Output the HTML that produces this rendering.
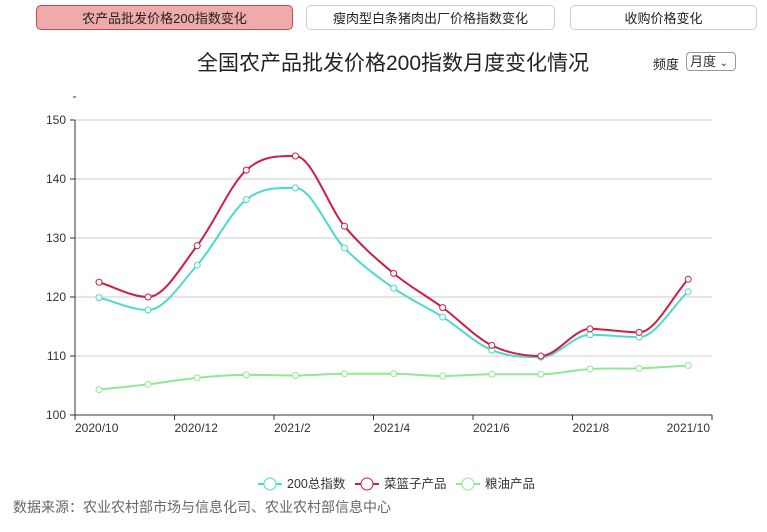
<!DOCTYPE html>
<html><head><meta charset="utf-8"><style>
body{margin:0;width:767px;height:532px;background:#fff;font-family:"Liberation Sans","Noto Sans CJK SC",sans-serif;position:relative;overflow:hidden}
.btn{position:absolute;top:5px;height:25px;border:1px solid #ccc;border-radius:5px;text-align:center;line-height:25px;font-size:13px;color:#222;background:#fff;box-sizing:border-box}
</style></head><body>
<div class="btn" style="left:36px;width:257px;background:#efaaaa;border-color:#c9474c">农产品批发价格200指数变化</div>
<div class="btn" style="left:306px;width:249px">瘦肉型白条猪肉出厂价格指数变化</div>
<div class="btn" style="left:570px;width:187px">收购价格变化</div>
<div style="position:absolute;left:193px;width:400px;top:47px;text-align:center;font-size:21px;color:#222;white-space:nowrap">全国农产品批发价格200指数月度变化情况</div>
<div style="position:absolute;left:653px;top:54px;font-size:13px;color:#222">频度</div>
<div style="position:absolute;left:686px;top:52px;width:50px;height:19px;border:1px solid #999;border-radius:4px;box-sizing:border-box;font-size:13px;line-height:17px;padding-left:3px;color:#333">月度 <span style="font-size:10px">&#8964;</span></div>
<svg id="c" width="767" height="532" style="position:absolute;left:0;top:0" font-family="Liberation Sans, Noto Sans CJK SC, sans-serif"></svg>
<div style="position:absolute;left:13px;top:497px;font-size:14px;color:#666">数据来源：农业农村部市场与信息化司、农业农村部信息中心</div>
<script>
var s='';
function Y(v){return 415-(v-100)*5.9;}
s+='<line x1="73" y1="97" x2="76" y2="97" stroke="#333"/>';
for(var v=100;v<=150;v+=10){var y=Y(v);
 if(v>100)s+='<line x1="75" y1="'+y+'" x2="712" y2="'+y+'" stroke="#ccc"/>';
 s+='<line x1="70" y1="'+y+'" x2="75" y2="'+y+'" stroke="#333"/><text x="66" y="'+(y+4)+'" text-anchor="end" font-size="12" fill="#333">'+v+'</text>';}
s+='<line x1="75" y1="120" x2="75" y2="415" stroke="#333"/><line x1="75" y1="415" x2="712" y2="415" stroke="#333"/>';
var lab=['2020/10','2020/12','2021/2','2021/4','2021/6','2021/8','2021/10'];
for(var i=0;i<7;i++){var x=i<6?75+i*99.5:712;s+='<line x1="'+x+'" y1="415" x2="'+x+'" y2="420" stroke="#333"/>';
 s+='<text x="'+(i<6?x:x-2)+'" y="432" text-anchor="'+(i<6?'start':'end')+'" font-size="12" fill="#333">'+lab[i]+'</text>';}
var D=[['#4dd9cc',[119.9,117.8,125.4,136.5,138.5,128.3,121.5,116.6,111.0,109.8,113.6,113.2,120.9]],
['#cc1f45',[122.5,120.0,128.7,141.5,143.9,132.0,124.0,118.2,111.8,110.0,114.6,114.0,123.0]],
['#90e890',[104.3,105.2,106.3,106.8,106.7,107.0,107.0,106.6,106.9,106.9,107.8,107.9,108.4]]];
D.forEach(function(d){var p=d[1].map(function(v,i){return [99+i*49.1,Y(v)];});
 var n=p.length,m=[];
 for(var i=0;i<n;i++){var a=p[Math.max(i-1,0)],c=p[Math.min(i+1,n-1)];var sl=(c[1]-a[1])/(c[0]-a[0]);
  if(i>0&&i<n-1){var d1=p[i][1]-p[i-1][1],d2=p[i+1][1]-p[i][1];if(d1*d2<=0)sl=0;}
  m.push(sl);}
 var path='M'+p[0];for(var i=0;i<n-1;i++){var b=p[i],c=p[i+1],h=(c[0]-b[0])/3;
 path+=' C'+(b[0]+h)+','+(b[1]+m[i]*h)+' '+(c[0]-h)+','+(c[1]-m[i+1]*h)+' '+c;}
 s+='<path d="'+path+'" fill="none" stroke="'+d[0]+'" stroke-width="2"/>';
 p.forEach(function(q){s+='<circle cx="'+q[0]+'" cy="'+q[1]+'" r="3" fill="#fff" stroke="'+d[0]+'"/>';});});
var L=[['200总指数',258],['菜篮子产品',355],['粮油产品',456]];
L.forEach(function(l,i){var x=l[1];s+='<line x1="'+x+'" y1="484" x2="'+(x+24)+'" y2="484" stroke="'+D[i][0]+'" stroke-width="2"/><circle cx="'+(x+12)+'" cy="484" r="6" fill="#fff" stroke="'+D[i][0]+'"/><text x="'+(x+29)+'" y="488" font-size="12.5" fill="#333">'+l[0]+'</text>';});
document.getElementById('c').innerHTML=s;
</script>
</body></html>
